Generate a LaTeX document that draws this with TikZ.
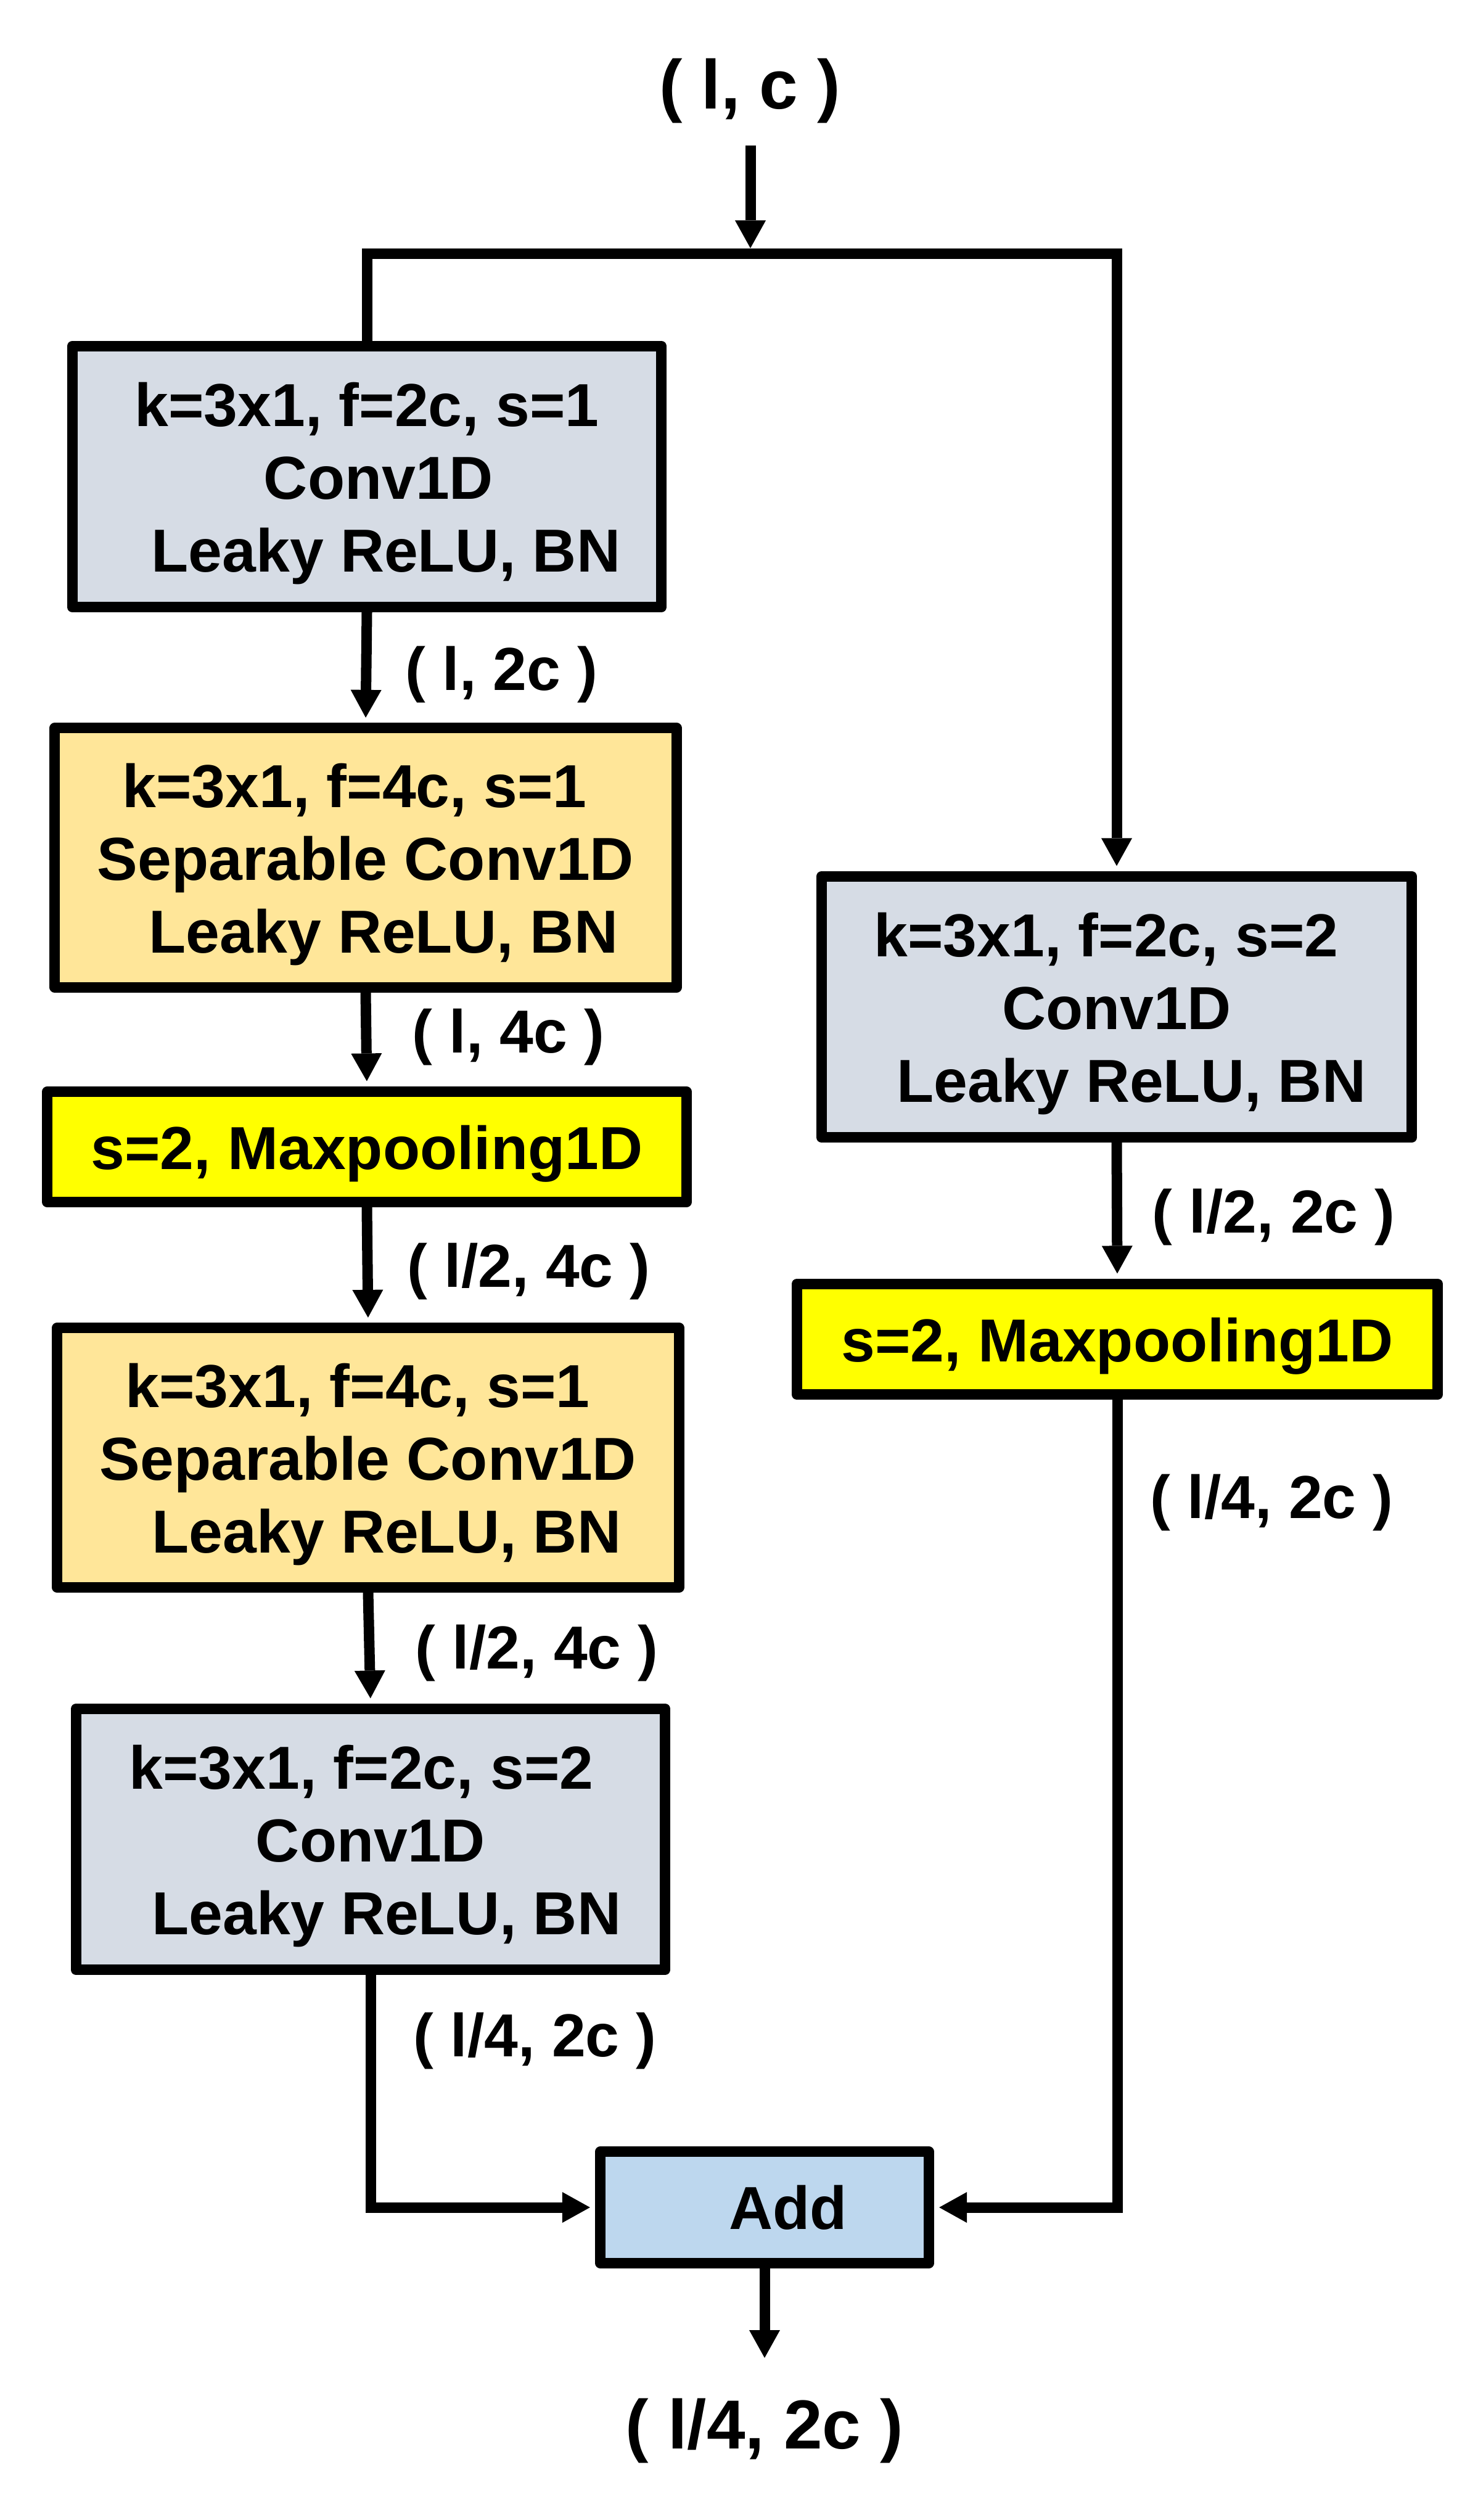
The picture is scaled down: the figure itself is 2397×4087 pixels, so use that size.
\documentclass[tikz,border=0pt]{standalone}
\usepackage{fontspec}
\setmainfont{Liberation Sans}
\usetikzlibrary{arrows.meta}
\definecolor{cgray}{HTML}{D6DCE5}
\definecolor{ctan}{HTML}{FFE699}
\definecolor{cyel}{HTML}{FFFF00}
\definecolor{cadd}{HTML}{BDD7EE}
\newcommand\myboxfont{\fontsize{28pt}{33.6pt}\selectfont\bfseries}
\newcommand\mybigfont{\fontsize{32pt}{38pt}\selectfont\bfseries}
\newcommand\mytopstrut{\rule{0pt}{0.93cm}}
\begin{document}
\begin{tikzpicture}[x=0.01cm, y=-0.01cm,
  box/.style={draw, line width=0.17cm, line join=round, inner sep=0pt, align=center, font=\myboxfont},
  conv/.style={box, fill=cgray, minimum width=9.55cm, minimum height=4.23cm},
  sep/.style={box, fill=ctan, minimum width=10.08cm, minimum height=4.2cm},
  pool/.style={box, fill=cyel, minimum width=10.37cm, minimum height=1.79cm},
  addbox/.style={box, fill=cadd, minimum width=5.32cm, minimum height=1.81cm},
  lbl/.style={inner sep=0pt, anchor=west, font=\myboxfont},
  biglbl/.style={inner sep=0pt, font=\mybigfont},
  wire/.style={line width=0.17cm},
  arr/.style={wire, -{Triangle[length=0.45cm,width=0.5cm,line width=0pt]}, shorten >=0.085cm},
  arrfree/.style={wire, -{Triangle[length=0.45cm,width=0.5cm,line width=0pt]}}]
\useasboundingbox (0,0) rectangle (2397,4087);

% boxes
\node[conv] (b1) at (595,773) {\mytopstrut k=3x1, f=2c, s=1\\\hspace*{0.38cm}Conv1D\\\hspace*{0.62cm}Leaky ReLU, BN};
\node[sep, minimum width=10.08cm] (b2) at (593,1391) {\mytopstrut k=3x1, f=4c, s=1\hspace*{0.36cm}\\Separable Conv1D\\\hspace*{0.58cm}Leaky ReLU, BN};
\node[pool, minimum width=10.36cm] (b3) at (595,1860) {\mytopstrut s=2, Maxpooling1D};
\node[sep, minimum width=10.09cm] (b4) at (597,2364) {\mytopstrut k=3x1, f=4c, s=1\hspace*{0.34cm}\\Separable Conv1D\\\hspace*{0.60cm}Leaky ReLU, BN};
\node[conv] (b5) at (601,2983) {\mytopstrut k=3x1, f=2c, s=2\hspace*{0.30cm}\\Conv1D\\\hspace*{0.52cm}Leaky ReLU, BN};
\node[conv, minimum width=9.57cm] (rb) at (1811,1633) {\mytopstrut k=3x1, f=2c, s=2\hspace*{0.34cm}\\Conv1D\\\hspace*{0.48cm}Leaky ReLU, BN};
\node[pool, minimum width=10.39cm] (rm) at (1812,2172) {\mytopstrut s=2, Maxpooling1D};
\node[addbox] (add) at (1240,3580) {\hspace*{0.76cm}Add};

% labels
\node[biglbl] (in) at (1216,147) {( l, c )};
\node[biglbl] (out) at (1240,3942) {( l/4, 2c )};
\node[lbl] (l1) at (657,1094) {( l, 2c )};
\node[lbl] (l2) at (668,1682) {( l, 4c )};
\node[lbl] (l3) at (660,2062) {( l/2, 4c )};
\node[lbl] (l4) at (673,2681) {( l/2, 4c )};
\node[lbl] (l5) at (670,3310) {( l/4, 2c )};
\node[lbl] (r1) at (1868,1974) {( l/2, 2c )};
\node[lbl] (r2) at (1865,2437) {( l/4, 2c )};

% connectors
\coordinate (tin) at (1217,236);
\coordinate (split) at (1217,411);
\coordinate (tout) at (1240,3824);
\draw[arr] (tin) -- (split);
\draw[arr] (b1.north) |- (split) -| (rb.north);
\draw[arr] (b1.south) -- (b2.north);
\draw[arr] (b2.south) -- (b3.north);
\draw[arr] (b3.south) -- (b4.north);
\draw[arr] (b4.south) -- (b5.north);
\draw[arr] (rb.south) -- (rm.north);
\draw[arr] (b5.south) |- (add.west);
\draw[arr] (rm.south) |- (add.east);
\draw[arrfree] (add.south) -- (tout);
\end{tikzpicture}
\end{document}
